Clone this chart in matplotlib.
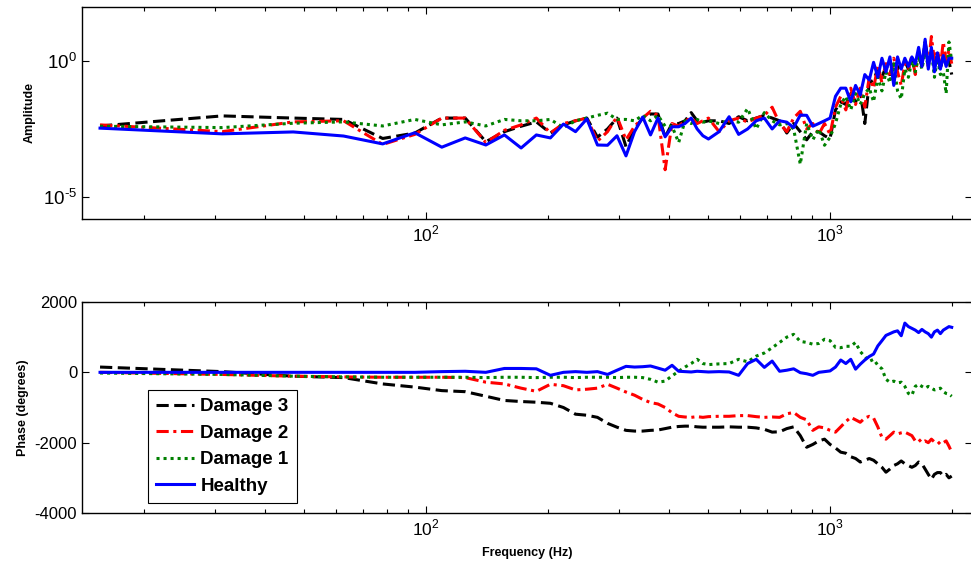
import numpy as np
import matplotlib
matplotlib.use('Agg')
import matplotlib.pyplot as plt
from matplotlib.ticker import NullLocator, LogLocator

plt.rcParams['font.family'] = ['Liberation Sans', 'DejaVu Sans']
plt.rcParams['mathtext.fontset'] = 'custom'
plt.rcParams['mathtext.rm'] = 'Liberation Sans'
plt.rcParams['axes.unicode_minus'] = False

# frequency grid (Hz)
freq = [15.6, 31.3, 46.9, 62.5, 78.1, 93.8, 109.4, 125.0, 140.6, 156.3,
        171.9, 187.5, 203.1, 218.8, 234.4, 250.0, 265.6, 281.3, 296.9, 312.5,
        328.1, 343.8, 359.4, 375.0, 390.6, 406.3, 421.9, 437.5, 453.1, 468.8,
        484.4, 500.0, 531.3, 562.5, 593.8, 625.0, 656.3, 687.5, 718.8, 750.0,
        781.3, 812.5, 843.8, 875.0, 906.3, 937.5, 968.8, 1000.0, 1031.3, 1062.5,
        1093.8, 1125.0, 1156.3, 1187.5, 1218.8, 1250.0, 1281.3, 1312.5, 1343.8, 1375.0,
        1406.3, 1437.5, 1468.8, 1500.0, 1531.3, 1562.5, 1593.8, 1625.0, 1656.3, 1687.5,
        1718.8, 1750.0, 1781.3, 1812.5, 1843.8, 1875.0, 1906.3, 1937.5, 1968.8, 2000.0]

# amplitude, log10 values
amp_d3 = [-2.39, -2.02, -2.10, -2.15, -2.85, -2.65, -2.10, -2.10, -2.97, -2.60,
          -2.40, -2.24, -2.65, -2.35, -2.20, -2.10, -2.80, -2.50, -2.10, -3.15,
          -2.50, -2.10, -1.95, -1.95, -2.80, -2.30, -2.30, -2.20, -1.90, -2.20,
          -2.25, -2.20, -2.20, -2.30, -2.05, -2.20, -2.10, -2.00, -2.10, -2.20,
          -2.65, -2.30, -2.60, -2.90, -2.60, -2.60, -2.75, -2.85, -1.80, -1.50,
          -1.60, -1.20, -1.50, -1.10, -2.30, -0.80, -0.70, -0.30, -0.60, -0.20,
          -0.50, 0.00, -0.30, -0.10, 0.00, -0.30, 0.10, -0.10, 0.20, -0.20,
          0.70, 0.00, 0.30, -0.10, 0.30, -0.30, 0.20, -0.10, 0.00, -0.50]
amp_d2 = [-2.35, -2.60, -2.24, -2.20, -3.07, -2.70, -2.10, -2.10, -3.00, -2.55,
          -2.35, -2.10, -2.65, -2.30, -2.20, -2.10, -2.95, -2.60, -2.05, -2.90,
          -2.40, -2.10, -1.85, -2.00, -4.00, -2.30, -2.40, -2.20, -2.10, -2.30,
          -2.20, -2.10, -2.60, -2.20, -2.10, -2.25, -2.10, -2.00, -1.70, -2.30,
          -2.60, -2.10, -1.85, -2.50, -2.30, -2.70, -2.30, -2.70, -1.70, -1.30,
          -1.80, -1.00, -1.60, -1.00, -1.70, -0.60, -1.00, -0.20, -0.80, -0.10,
          -0.60, 0.10, -0.40, -0.90, -0.10, -0.30, 0.20, -0.50, 0.30, -0.10,
          0.50, -0.20, 0.90, 0.00, 0.40, -0.20, 0.70, 0.00, 0.40, -0.10]
amp_d1 = [-2.40, -2.45, -2.29, -2.24, -2.39, -2.15, -2.35, -2.24, -2.39, -2.15,
          -2.20, -2.20, -2.15, -2.45, -2.20, -2.10, -2.00, -1.92, -2.15, -2.15,
          -2.20, -2.00, -2.20, -2.00, -2.40, -2.40, -3.00, -2.20, -2.30, -2.15,
          -2.25, -2.20, -2.30, -2.20, -2.25, -1.75, -2.50, -1.90, -2.20, -2.35,
          -2.30, -2.50, -3.80, -2.30, -2.90, -2.50, -3.10, -2.80, -2.30, -1.60,
          -1.30, -1.80, -1.20, -1.60, -1.20, -1.00, -1.50, -0.60, -1.10, -0.40,
          -0.80, -0.10, -1.10, -1.40, -0.30, -0.60, 0.00, -0.40, 0.20, -0.30,
          0.30, -0.20, 0.40, -0.60, 0.10, -0.50, -0.40, -1.20, 0.70, 0.00]
amp_h = [-2.47, -2.68, -2.61, -2.76, -3.05, -2.64, -3.17, -2.83, -3.09, -2.72,
         -3.20, -2.72, -2.83, -2.32, -2.60, -2.13, -3.09, -3.10, -2.75, -3.49,
         -2.60, -2.06, -2.72, -2.10, -2.79, -2.42, -2.42, -2.30, -2.10, -2.50,
         -2.75, -2.87, -2.60, -2.05, -2.70, -2.50, -2.20, -2.10, -2.50, -2.20,
         -2.25, -2.45, -1.99, -2.00, -2.40, -2.30, -2.20, -2.10, -1.30, -1.00,
         -1.00, -1.50, -0.90, -1.25, -0.50, -0.70, -0.05, -0.60, 0.10, -0.40,
         0.15, -0.90, 0.15, -0.30, 0.10, -0.20, 0.15, -0.10, 0.50, -0.20,
         0.80, -0.30, 0.50, -0.40, 0.30, -0.30, 0.20, -0.20, 0.10, 0.10]

# phase (degrees)
ph_d3 = [150, 20, -110, -150, -330, -420, -520, -550, -680, -800,
         -830, -850, -880, -1000, -1190, -1220, -1280, -1450, -1560, -1650,
         -1670, -1670, -1650, -1640, -1600, -1560, -1540, -1530, -1530, -1550,
         -1560, -1560, -1560, -1550, -1560, -1560, -1580, -1620, -1700, -1690,
         -1600, -1550, -1800, -2130, -2050, -1950, -1900, -2050, -2150, -2270,
         -2300, -2400, -2450, -2550, -2500, -2450, -2500, -2600, -2700, -2840,
         -2750, -2650, -2600, -2520, -2600, -2650, -2700, -2650, -2550, -2600,
         -2750, -2900, -3040, -2900, -2850, -2850, -2950, -2900, -3000, -2950]
ph_d2 = [0, -60, -110, -130, -140, -140, -140, -150, -280, -330,
         -450, -540, -340, -380, -500, -480, -450, -340, -450, -560,
         -650, -770, -860, -900, -1000, -1150, -1250, -1270, -1280, -1260,
         -1280, -1260, -1250, -1250, -1230, -1230, -1260, -1280, -1270, -1280,
         -1180, -1140, -1280, -1350, -1650, -1550, -1580, -1650, -1700, -1550,
         -1400, -1280, -1350, -1420, -1300, -1250, -1300, -1550, -1850, -1900,
         -1800, -1700, -1750, -1720, -1700, -1750, -1800, -1950, -1900, -2000,
         -1950, -2000, -1900, -1980, -1960, -2050, -2000, -1950, -2100, -2270]
ph_d1 = [-20, -60, -110, -130, -140, -140, -140, -140, -150, -140,
         -140, -150, -140, -140, -150, -140, -140, -140, -150, -140,
         -140, -150, -200, -280, -250, -100, 30, 150, 250, 370,
         250, 220, 240, 250, 370, 300, 460, 550, 700, 850,
         1000, 1080, 880, 850, 800, 820, 940, 900, 710, 700,
         740, 740, 850, 590, 450, 310, 370, 200, 100, -200,
         -280, -250, -300, -280, -400, -600, -650, -400, -340, -400,
         -450, -400, -450, -500, -480, -450, -550, -600, -620, -680]
ph_h = [0, 0, 0, 0, 0, 0, 20, 30, 0, 110,
        110, 100, -85, 0, 20, 0, 20, -60, 60, 170,
        150, 160, 180, 120, 60, 200, 30, 20, 10, 30,
        20, 10, 20, 10, -85, 250, 370, 140, 320, 30,
        60, 100, -10, -40, -85, 0, 20, 40, 150, 350,
        250, 370, 90, 230, 350, 450, 520, 750, 900, 1050,
        1100, 1150, 1180, 1040, 1400, 1300, 1250, 1200, 1130, 1220,
        1150, 1100, 1000, 1150, 1200, 1100, 1200, 1250, 1300, 1280]

labels = ['Damage 3', 'Damage 2', 'Damage 1', 'Healthy']
colors = ['black', 'red', 'green', 'blue']
dashes = [(4, 1.8), (4, 1.5, 1, 1.5), (1, 1.3), None]

fig = plt.figure(figsize=(9.71, 5.67), dpi=100)
ax1 = fig.add_axes([0.0845, 0.6138, 0.9166, 0.3739])
ax2 = fig.add_axes([0.0845, 0.0952, 0.9166, 0.3722])

amps = [amp_d3, amp_d2, amp_d1, amp_h]
phases = [ph_d3, ph_d2, ph_d1, ph_h]
for a, p, lab, c, d in zip(amps, phases, labels, colors, dashes):
    l1, = ax1.plot(freq, 10.0 ** np.array(a), color=c, lw=2.2, label=lab)
    l2, = ax2.plot(freq, p, color=c, lw=2.2, label=lab)
    if d is not None:
        l1.set_dashes(d)
        l2.set_dashes(d)

for ax in (ax1, ax2):
    ax.set_xscale('log')
    ax.set_xlim(14.08, 2246)
    ax.tick_params(which='both', direction='in', top=True, right=True, labelsize=12.5)
    ax.tick_params(which='major', length=5, width=0.8)
    ax.tick_params(which='minor', length=3, width=0.8)
    ax.xaxis.set_major_locator(LogLocator(base=10, numticks=10))
    ax.set_xticks([100, 1000])
    ax.set_xticklabels([r'$10^{2}$', r'$10^{3}$'])
    for s in ax.spines.values():
        s.set_linewidth(1.0)

ax1.set_yscale('log')
ax1.set_ylim(10 ** -5.81, 10 ** 1.985)
ax1.set_yticks([1e-5, 1e0])
ax1.set_yticklabels([r'$10^{\text{-}5}$', r'$10^{0}$'])
ax1.yaxis.set_minor_locator(NullLocator())
ax1.tick_params(axis='y', labelsize=13.5)
ax1.set_ylabel('Amplitude', fontsize=9, fontweight='bold', labelpad=5)

ax2.set_ylim(-4000, 2000)
ax2.set_yticks([-4000, -2000, 0, 2000])
ax2.tick_params(axis='y', labelsize=12)
ax2.set_ylabel('Phase (degrees)', fontsize=9, fontweight='bold', labelpad=4)
ax2.set_xlabel('Frequency (Hz)', fontsize=9, fontweight='bold', labelpad=6)

leg = ax2.legend(loc='lower left', bbox_to_anchor=(0.074, 0.047), borderaxespad=0,
                 fancybox=False, edgecolor='black', framealpha=1,
                 prop={'weight': 'bold', 'size': 13.5}, handlelength=2.0,
                 labelspacing=0.5, borderpad=0.45, handletextpad=0.35)
leg.get_frame().set_linewidth(0.8)

plt.savefig('out.png', dpi=100)
